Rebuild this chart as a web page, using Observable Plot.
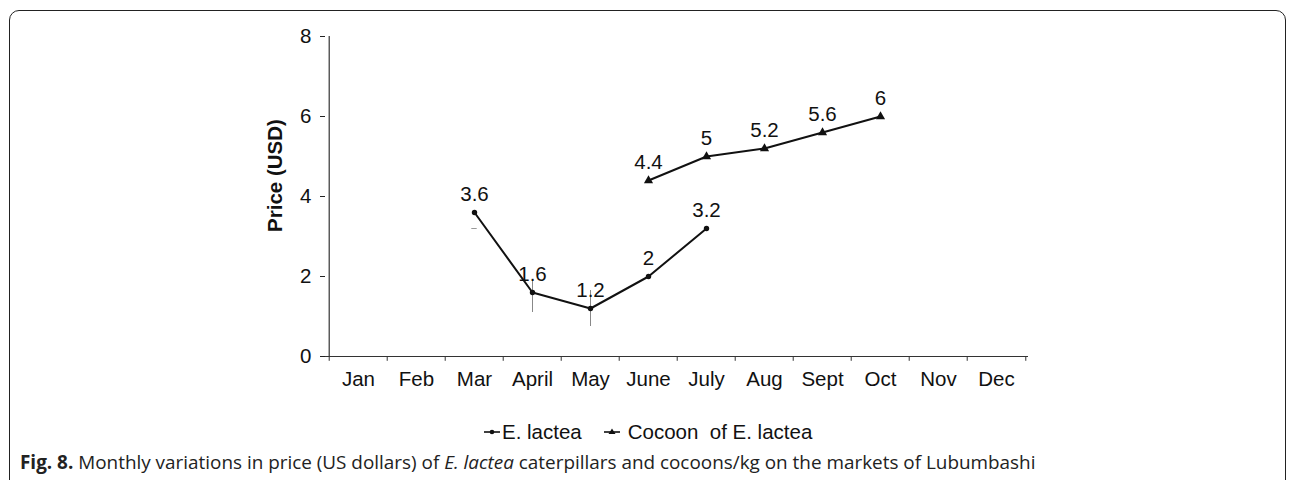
<!DOCTYPE html>
<html>
<head>
<meta charset="utf-8">
<script src="https://cdn.jsdelivr.net/npm/d3@7"></script>
<script src="https://cdn.jsdelivr.net/npm/@observablehq/plot@0.6"></script>
<style>
  html, body { margin: 0; padding: 0; background: #fff; }
  body { width: 1292px; height: 480px; position: relative; overflow: hidden; font-family: "Liberation Sans", Arial, sans-serif; }
  #frame { position: absolute; left: 9px; top: 10px; width: 1277px; height: 500px; border: 1.5px solid #222; border-radius: 10px; box-sizing: border-box; }
  #chart { position: absolute; left: 0; top: 0; }
  #legend { position: absolute; top: 420px; left: 0; width: 1292px; font-size: 20.5px; color: #111; }
  #legend .item { position: absolute; top: 0; white-space: pre; display: flex; align-items: center; }
  #caption { position: absolute; left: 20px; top: 449px; font-family: "Open Sans", sans-serif; font-size: 18.9px; color: #222; white-space: nowrap; }
  #caption b { font-weight: 700; }
</style>
</head>
<body>
<div id="frame"></div>
<div id="chart"></div>
<div id="legend"></div>
<div id="caption"></div>
<script>
const months = ["Jan","Feb","Mar","April","May","June","July","Aug","Sept","Oct","Nov","Dec"];
const yTicks = [0, 2, 4, 6, 8];

const lacteaMonths = ["Mar","April","May","June","July"];
const lacteaPrice = [3.6, 1.6, 1.2, 2, 3.2];

const cocoonMonths = ["June","July","Aug","Sept","Oct"];
const cocoonPrice = [4.4, 5, 5.2, 5.6, 6];

// faint error whiskers seen near the E. lactea points
const errMonths = ["April","May"];
const errLow = [1.1, 0.75];
const errHigh = [1.9, 1.65];
const dashMonths = ["Mar"];
const dashValue = [3.2];

const seriesNames = ["E. lactea", "Cocoon  of E. lactea"];

const lactea = lacteaMonths.map((m, i) => ({month: m, price: lacteaPrice[i]}));
const cocoon = cocoonMonths.map((m, i) => ({month: m, price: cocoonPrice[i]}));
const errs = errMonths.map((m, i) => ({month: m, lo: errLow[i], hi: errHigh[i]}));
const dashes = dashMonths.map((m, i) => ({month: m, v: dashValue[i]}));

const W = 1292, H = 400;
const mL = 325, mR = 264, mT = 36, mB = 44;
const bw = (W - mL - mR) / months.length;

const plot = Plot.plot({
  width: W, height: H,
  marginLeft: mL, marginRight: mR, marginTop: mT, marginBottom: mB,
  style: {fontFamily: "'Liberation Sans', Arial, sans-serif", background: "transparent", color: "#111"},
  x: {type: "band", domain: months, padding: 0, label: null},
  y: {domain: [0, 8], label: null},
  marks: [
    // error whiskers
    Plot.ruleX(errs, {x: "month", y1: "lo", y2: "hi", stroke: "#888", strokeWidth: 1}),
    Plot.tickY(dashes, {x: "month", y: "v", stroke: "#999", strokeWidth: 1, insetLeft: bw/2 - 3, insetRight: bw/2 - 3}),
    // axes
    Plot.axisY({ticks: yTicks, tickSize: 5, tickPadding: 9, fontSize: 20.5, stroke: "#222"}),
    Plot.ruleX([0], {x: () => months[0], dx: -bw/2, y1: 0, y2: 8, stroke: "#333", strokeWidth: 1.2}),
    Plot.ruleY([0], {stroke: "#333", strokeWidth: 1.2}),
    Plot.axisX({tickSize: 0, tickPadding: 15, fontSize: 20.5, fill: "#111"}),
    Plot.ruleX(months, {x: d => d, dx: -bw/2, y1: 0, y2: -0.12, stroke: "#333"}),
    Plot.ruleX([months[months.length - 1]], {x: d => d, dx: bw/2, y1: 0, y2: -0.12, stroke: "#333"}),
    Plot.text(["Price (USD)"], {frameAnchor: "left", textAnchor: "middle", rotate: -90, dx: -50, dy: -21, fontWeight: "bold", fontSize: 20.5, fill: "#111"}),
    // series
    Plot.line(lactea, {x: "month", y: "price", stroke: "#111", strokeWidth: 2}),
    Plot.dot(lactea, {x: "month", y: "price", r: 2.7, fill: "#111"}),
    Plot.text(lactea, {x: "month", y: "price", text: d => String(d.price), dy: -18, fontSize: 20.5, fill: "#111"}),
    Plot.line(cocoon, {x: "month", y: "price", stroke: "#111", strokeWidth: 2}),
    Plot.dot(cocoon, {x: "month", y: "price", symbol: "triangle", r: 3.4, fill: "#111"}),
    Plot.text(cocoon, {x: "month", y: "price", text: d => String(d.price), dy: -18, fontSize: 20.5, fill: "#111"})
  ]
});
document.getElementById("chart").appendChild(plot);

// legend
const legend = document.getElementById("legend");
const sym = (kind) => {
  const mark = kind === "dot"
    ? '<circle cx="9" cy="8" r="2.3" fill="#111"/>'
    : '<path d="M9,4.5 L12.5,10 L5.5,10 Z" fill="#111"/>';
  return `<svg width="18" height="16" style="margin-right:1px"><line x1="1" y1="8" x2="17" y2="8" stroke="#111" stroke-width="1.6"/>${mark}</svg>`;
};
const legendX = [483, 603];
seriesNames.forEach((n, i) => {
  const d = document.createElement("div");
  d.className = "item";
  d.style.left = legendX[i] + "px";
  d.innerHTML = sym(i === 0 ? "dot" : "tri") + (i === 1 ? " " : "") + n;
  legend.appendChild(d);
});

document.getElementById("caption").innerHTML =
  "<b>Fig. 8.</b> Monthly variations in price (US dollars) of <i>E. lactea</i> caterpillars and cocoons/kg on the markets of Lubumbashi";
</script>
</body>
</html>
